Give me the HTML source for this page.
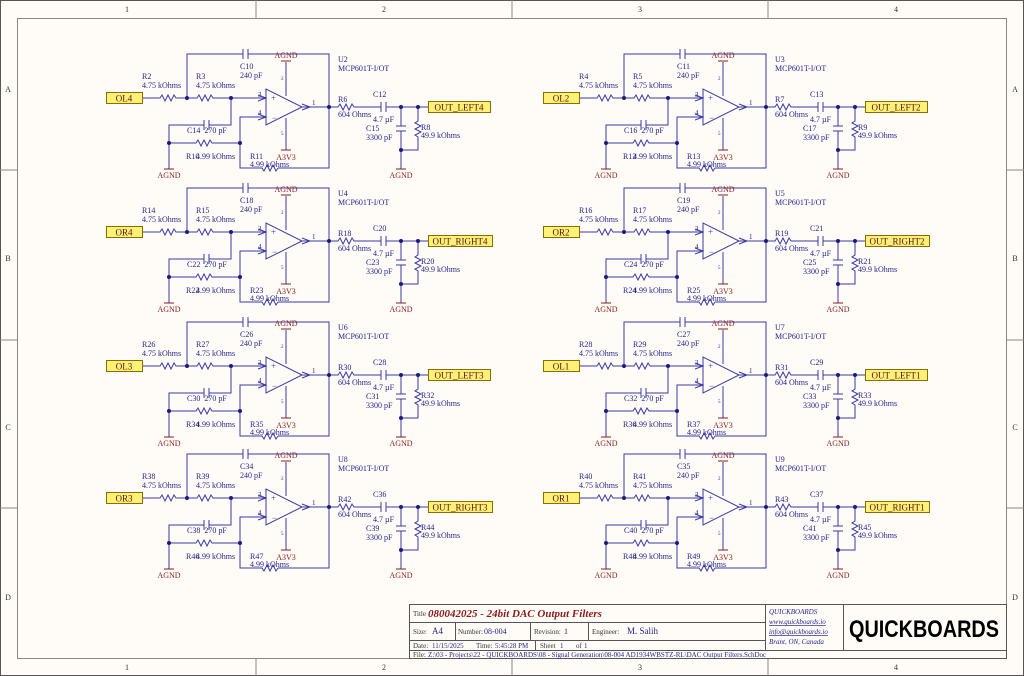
<!DOCTYPE html>
<html><head><meta charset="utf-8"><style>
html,body{margin:0;padding:0;background:#fffcf7;}
svg{display:block;font-family:"Liberation Serif",serif;}
.w{stroke:#3a3aa8;stroke-width:1;fill:none}
.t{fill:#25258f;font-size:8px}
.g{fill:#8b1a1a;font-size:8px}
.gl{stroke:#8b1a1a;stroke-width:1}
.n{fill:#1a1a80}
.f{stroke:#888;stroke-width:1;fill:none}
</style></head><body>
<svg width="1024" height="676" viewBox="0 0 1024 676" xmlns="http://www.w3.org/2000/svg">
<rect x="0.5" y="0.5" width="1023" height="675" fill="#fffcf7" stroke="#555"/>
<rect x="17.5" y="18.5" width="989" height="640" class="f"/>
<g class="f"><line x1="256" y1="0" x2="256" y2="18"/><line x1="512" y1="0" x2="512" y2="18"/><line x1="768" y1="0" x2="768" y2="18"/>
<line x1="256" y1="659" x2="256" y2="676"/><line x1="512" y1="659" x2="512" y2="676"/><line x1="768" y1="659" x2="768" y2="676"/>
<line x1="0" y1="170" x2="17" y2="170"/><line x1="0" y1="340" x2="17" y2="340"/><line x1="0" y1="508" x2="17" y2="508"/>
<line x1="1007" y1="170" x2="1024" y2="170"/><line x1="1007" y1="340" x2="1024" y2="340"/><line x1="1007" y1="508" x2="1024" y2="508"/></g>
<g fill="#333" font-size="8" text-anchor="middle">
<text x="127" y="12">1</text><text x="384" y="12">2</text><text x="640" y="12">3</text><text x="896" y="12">4</text>
<text x="127" y="670">1</text><text x="384" y="670">2</text><text x="640" y="670">3</text><text x="896" y="670">4</text>
<text x="8" y="92">A</text><text x="8" y="261">B</text><text x="8" y="430">C</text><text x="8" y="600">D</text>
<text x="1015" y="92">A</text><text x="1015" y="261">B</text><text x="1015" y="430">C</text><text x="1015" y="600">D</text></g>

<g id="b1">
<g class="w">
<polyline points="142,98 160,98 162,95 165,101 168,95 171,101 174,95 176,98 197,98 199,95 202,101 205,95 208,101 211,95 213,98 258,98"/>
<polyline points="187,98 187,54 243,54"/><polyline points="248,54 329,54 329,168 278,168"/>
<line x1="243" y1="49" x2="243" y2="59"/><line x1="248" y1="49" x2="248" y2="59"/>
<polyline points="278,168 276,171 273,165 270,171 267,165 264,171 262,168 240,168 240,117 258,117"/>
<polyline points="258,95 266,98 258,101"/><polyline points="258,114 266,117 258,120"/>
<line x1="266" y1="98" x2="258" y2="98"/><line x1="266" y1="117" x2="258" y2="117"/>
<polygon points="266,89 266,125 302,107"/>
<polyline points="302,104 310,107 302,110"/>
<polyline points="302,107 338,107 340,104 343,110 346,104 349,110 352,104 354,107 381,107"/><line x1="381" y1="102" x2="381" y2="112"/><line x1="386" y1="102" x2="386" y2="112"/>
<line x1="386" y1="107" x2="428" y2="107"/>
<line x1="286" y1="62" x2="286" y2="96"/><line x1="286" y1="118" x2="286" y2="150"/>
<polyline points="231,98 231,125 209,125"/><line x1="209" y1="120" x2="209" y2="130"/><line x1="204" y1="120" x2="204" y2="130"/>
<polyline points="204,125 169,125 169,169"/>
<polyline points="169,143 196,143 198,140 201,146 204,140 207,146 210,140 212,143 240,143"/>
<polyline points="401,107 401,126"/><line x1="396" y1="126" x2="406" y2="126"/><line x1="396" y1="131" x2="406" y2="131"/><polyline points="401,131 401,169"/>
<polyline points="418,107 418,121 415,123 421,126 415,129 421,132 415,135 418,137 418,150 401,150"/>
</g>
<g class="gl"><line x1="164" y1="169" x2="174" y2="169"/><line x1="396" y1="169" x2="406" y2="169"/><line x1="281" y1="61" x2="291" y2="61"/><line x1="281" y1="150" x2="291" y2="150"/></g>
<g class="n"><circle cx="187" cy="98" r="2"/><circle cx="231" cy="98" r="2"/><circle cx="169" cy="143" r="2"/><circle cx="240" cy="143" r="2"/><circle cx="329" cy="107" r="2"/><circle cx="401" cy="107" r="2"/><circle cx="418" cy="107" r="2"/><circle cx="401" cy="150" r="2"/></g>
<g class="t" style="fill:#3a3aa8;font-size:9px"><text x="271" y="101">+</text><text x="272" y="121">−</text></g>
<g class="t" style="font-size:5px"><text x="281" y="80">2</text><text x="281" y="135">5</text></g>
<g class="g"><text x="286" y="58" text-anchor="middle">AGND</text><text x="286" y="160" text-anchor="middle">A3V3</text><text x="169" y="178" text-anchor="middle">AGND</text><text x="401" y="178" text-anchor="middle">AGND</text></g>
</g>
<use href="#b1" x="0" y="134"/><use href="#b1" x="0" y="268"/><use href="#b1" x="0" y="400"/>
<use href="#b1" x="437" y="0"/><use href="#b1" x="437" y="134"/><use href="#b1" x="437" y="268"/><use href="#b1" x="437" y="400"/>

<g transform="translate(0,0)">
<rect x="106.5" y="92.5" width="36" height="11" fill="#fff176" stroke="#8a6d00"/><text x="124" y="101.5" font-size="9" text-anchor="middle" fill="#5a1010">OL4</text>
<rect x="428.5" y="101.5" width="62" height="11" fill="#fff176" stroke="#8a6d00"/><text x="459" y="110.5" font-size="9" text-anchor="middle" fill="#5a1010">OUT_LEFT4</text>
<g class="t"><text x="142" y="79">R2</text><text x="142" y="88">4.75 kOhms</text><text x="196" y="79">R3</text><text x="196" y="88">4.75 kOhms</text>
<text x="240" y="69">C10</text><text x="240" y="78">240 pF</text><text x="338" y="62">U2</text><text x="338" y="71">MCP601T-I/OT</text>
<text x="258" y="97" font-size="7">3</text><text x="258" y="115" font-size="7">4</text><text x="312" y="105" font-size="7">1</text>
<text x="187" y="133">C14&#160;&#160;270 pF</text><text x="186" y="159">R10</text><text x="196" y="159">4.99 kOhms</text>
<text x="250" y="159">R11</text><text x="250" y="167">4.99 kOhms</text>
<text x="338" y="102">R6</text><text x="338" y="117">604 Ohms</text><text x="373" y="97">C12</text><text x="373" y="122">4.7 µF</text>
<text x="366" y="131">C15</text><text x="366" y="140">3300 pF</text><text x="421" y="130">R8</text><text x="421" y="138">49.9 kOhms</text></g></g>

<g transform="translate(0,134)">
<rect x="106.5" y="92.5" width="36" height="11" fill="#fff176" stroke="#8a6d00"/><text x="124" y="101.5" font-size="9" text-anchor="middle" fill="#5a1010">OR4</text>
<rect x="428.5" y="101.5" width="64" height="11" fill="#fff176" stroke="#8a6d00"/><text x="460" y="110.5" font-size="9" text-anchor="middle" fill="#5a1010">OUT_RIGHT4</text>
<g class="t"><text x="142" y="79">R14</text><text x="142" y="88">4.75 kOhms</text><text x="196" y="79">R15</text><text x="196" y="88">4.75 kOhms</text>
<text x="240" y="69">C18</text><text x="240" y="78">240 pF</text><text x="338" y="62">U4</text><text x="338" y="71">MCP601T-I/OT</text>
<text x="258" y="97" font-size="7">3</text><text x="258" y="115" font-size="7">4</text><text x="312" y="105" font-size="7">1</text>
<text x="187" y="133">C22&#160;&#160;270 pF</text><text x="186" y="159">R22</text><text x="196" y="159">4.99 kOhms</text>
<text x="250" y="159">R23</text><text x="250" y="167">4.99 kOhms</text>
<text x="338" y="102">R18</text><text x="338" y="117">604 Ohms</text><text x="373" y="97">C20</text><text x="373" y="122">4.7 µF</text>
<text x="366" y="131">C23</text><text x="366" y="140">3300 pF</text><text x="421" y="130">R20</text><text x="421" y="138">49.9 kOhms</text></g></g>

<g transform="translate(0,268)">
<rect x="106.5" y="92.5" width="36" height="11" fill="#fff176" stroke="#8a6d00"/><text x="124" y="101.5" font-size="9" text-anchor="middle" fill="#5a1010">OL3</text>
<rect x="428.5" y="101.5" width="62" height="11" fill="#fff176" stroke="#8a6d00"/><text x="459" y="110.5" font-size="9" text-anchor="middle" fill="#5a1010">OUT_LEFT3</text>
<g class="t"><text x="142" y="79">R26</text><text x="142" y="88">4.75 kOhms</text><text x="196" y="79">R27</text><text x="196" y="88">4.75 kOhms</text>
<text x="240" y="69">C26</text><text x="240" y="78">240 pF</text><text x="338" y="62">U6</text><text x="338" y="71">MCP601T-I/OT</text>
<text x="258" y="97" font-size="7">3</text><text x="258" y="115" font-size="7">4</text><text x="312" y="105" font-size="7">1</text>
<text x="187" y="133">C30&#160;&#160;270 pF</text><text x="186" y="159">R34</text><text x="196" y="159">4.99 kOhms</text>
<text x="250" y="159">R35</text><text x="250" y="167">4.99 kOhms</text>
<text x="338" y="102">R30</text><text x="338" y="117">604 Ohms</text><text x="373" y="97">C28</text><text x="373" y="122">4.7 µF</text>
<text x="366" y="131">C31</text><text x="366" y="140">3300 pF</text><text x="421" y="130">R32</text><text x="421" y="138">49.9 kOhms</text></g></g>

<g transform="translate(0,400)">
<rect x="106.5" y="92.5" width="36" height="11" fill="#fff176" stroke="#8a6d00"/><text x="124" y="101.5" font-size="9" text-anchor="middle" fill="#5a1010">OR3</text>
<rect x="428.5" y="101.5" width="64" height="11" fill="#fff176" stroke="#8a6d00"/><text x="460" y="110.5" font-size="9" text-anchor="middle" fill="#5a1010">OUT_RIGHT3</text>
<g class="t"><text x="142" y="79">R38</text><text x="142" y="88">4.75 kOhms</text><text x="196" y="79">R39</text><text x="196" y="88">4.75 kOhms</text>
<text x="240" y="69">C34</text><text x="240" y="78">240 pF</text><text x="338" y="62">U8</text><text x="338" y="71">MCP601T-I/OT</text>
<text x="258" y="97" font-size="7">3</text><text x="258" y="115" font-size="7">4</text><text x="312" y="105" font-size="7">1</text>
<text x="187" y="133">C38&#160;&#160;270 pF</text><text x="186" y="159">R46</text><text x="196" y="159">4.99 kOhms</text>
<text x="250" y="159">R47</text><text x="250" y="167">4.99 kOhms</text>
<text x="338" y="102">R42</text><text x="338" y="117">604 Ohms</text><text x="373" y="97">C36</text><text x="373" y="122">4.7 µF</text>
<text x="366" y="131">C39</text><text x="366" y="140">3300 pF</text><text x="421" y="130">R44</text><text x="421" y="138">49.9 kOhms</text></g></g>

<g transform="translate(437,0)">
<rect x="106.5" y="92.5" width="36" height="11" fill="#fff176" stroke="#8a6d00"/><text x="124" y="101.5" font-size="9" text-anchor="middle" fill="#5a1010">OL2</text>
<rect x="428.5" y="101.5" width="62" height="11" fill="#fff176" stroke="#8a6d00"/><text x="459" y="110.5" font-size="9" text-anchor="middle" fill="#5a1010">OUT_LEFT2</text>
<g class="t"><text x="142" y="79">R4</text><text x="142" y="88">4.75 kOhms</text><text x="196" y="79">R5</text><text x="196" y="88">4.75 kOhms</text>
<text x="240" y="69">C11</text><text x="240" y="78">240 pF</text><text x="338" y="62">U3</text><text x="338" y="71">MCP601T-I/OT</text>
<text x="258" y="97" font-size="7">3</text><text x="258" y="115" font-size="7">4</text><text x="312" y="105" font-size="7">1</text>
<text x="187" y="133">C16&#160;&#160;270 pF</text><text x="186" y="159">R12</text><text x="196" y="159">4.99 kOhms</text>
<text x="250" y="159">R13</text><text x="250" y="167">4.99 kOhms</text>
<text x="338" y="102">R7</text><text x="338" y="117">604 Ohms</text><text x="373" y="97">C13</text><text x="373" y="122">4.7 µF</text>
<text x="366" y="131">C17</text><text x="366" y="140">3300 pF</text><text x="421" y="130">R9</text><text x="421" y="138">49.9 kOhms</text></g></g>

<g transform="translate(437,134)">
<rect x="106.5" y="92.5" width="36" height="11" fill="#fff176" stroke="#8a6d00"/><text x="124" y="101.5" font-size="9" text-anchor="middle" fill="#5a1010">OR2</text>
<rect x="428.5" y="101.5" width="64" height="11" fill="#fff176" stroke="#8a6d00"/><text x="460" y="110.5" font-size="9" text-anchor="middle" fill="#5a1010">OUT_RIGHT2</text>
<g class="t"><text x="142" y="79">R16</text><text x="142" y="88">4.75 kOhms</text><text x="196" y="79">R17</text><text x="196" y="88">4.75 kOhms</text>
<text x="240" y="69">C19</text><text x="240" y="78">240 pF</text><text x="338" y="62">U5</text><text x="338" y="71">MCP601T-I/OT</text>
<text x="258" y="97" font-size="7">3</text><text x="258" y="115" font-size="7">4</text><text x="312" y="105" font-size="7">1</text>
<text x="187" y="133">C24&#160;&#160;270 pF</text><text x="186" y="159">R24</text><text x="196" y="159">4.99 kOhms</text>
<text x="250" y="159">R25</text><text x="250" y="167">4.99 kOhms</text>
<text x="338" y="102">R19</text><text x="338" y="117">604 Ohms</text><text x="373" y="97">C21</text><text x="373" y="122">4.7 µF</text>
<text x="366" y="131">C25</text><text x="366" y="140">3300 pF</text><text x="421" y="130">R21</text><text x="421" y="138">49.9 kOhms</text></g></g>

<g transform="translate(437,268)">
<rect x="106.5" y="92.5" width="36" height="11" fill="#fff176" stroke="#8a6d00"/><text x="124" y="101.5" font-size="9" text-anchor="middle" fill="#5a1010">OL1</text>
<rect x="428.5" y="101.5" width="62" height="11" fill="#fff176" stroke="#8a6d00"/><text x="459" y="110.5" font-size="9" text-anchor="middle" fill="#5a1010">OUT_LEFT1</text>
<g class="t"><text x="142" y="79">R28</text><text x="142" y="88">4.75 kOhms</text><text x="196" y="79">R29</text><text x="196" y="88">4.75 kOhms</text>
<text x="240" y="69">C27</text><text x="240" y="78">240 pF</text><text x="338" y="62">U7</text><text x="338" y="71">MCP601T-I/OT</text>
<text x="258" y="97" font-size="7">3</text><text x="258" y="115" font-size="7">4</text><text x="312" y="105" font-size="7">1</text>
<text x="187" y="133">C32&#160;&#160;270 pF</text><text x="186" y="159">R36</text><text x="196" y="159">4.99 kOhms</text>
<text x="250" y="159">R37</text><text x="250" y="167">4.99 kOhms</text>
<text x="338" y="102">R31</text><text x="338" y="117">604 Ohms</text><text x="373" y="97">C29</text><text x="373" y="122">4.7 µF</text>
<text x="366" y="131">C33</text><text x="366" y="140">3300 pF</text><text x="421" y="130">R33</text><text x="421" y="138">49.9 kOhms</text></g></g>

<g transform="translate(437,400)">
<rect x="106.5" y="92.5" width="36" height="11" fill="#fff176" stroke="#8a6d00"/><text x="124" y="101.5" font-size="9" text-anchor="middle" fill="#5a1010">OR1</text>
<rect x="428.5" y="101.5" width="64" height="11" fill="#fff176" stroke="#8a6d00"/><text x="460" y="110.5" font-size="9" text-anchor="middle" fill="#5a1010">OUT_RIGHT1</text>
<g class="t"><text x="142" y="79">R40</text><text x="142" y="88">4.75 kOhms</text><text x="196" y="79">R41</text><text x="196" y="88">4.75 kOhms</text>
<text x="240" y="69">C35</text><text x="240" y="78">240 pF</text><text x="338" y="62">U9</text><text x="338" y="71">MCP601T-I/OT</text>
<text x="258" y="97" font-size="7">3</text><text x="258" y="115" font-size="7">4</text><text x="312" y="105" font-size="7">1</text>
<text x="187" y="133">C40&#160;&#160;270 pF</text><text x="186" y="159">R48</text><text x="196" y="159">4.99 kOhms</text>
<text x="250" y="159">R49</text><text x="250" y="167">4.99 kOhms</text>
<text x="338" y="102">R43</text><text x="338" y="117">604 Ohms</text><text x="373" y="97">C37</text><text x="373" y="122">4.7 µF</text>
<text x="366" y="131">C41</text><text x="366" y="140">3300 pF</text><text x="421" y="130">R45</text><text x="421" y="138">49.9 kOhms</text></g></g>

<g stroke="#555" fill="none">
<rect x="409.5" y="604.5" width="597" height="54"/>
<line x1="409" y1="622.5" x2="765" y2="622.5"/><line x1="409" y1="640.5" x2="765" y2="640.5"/><line x1="409" y1="650.5" x2="1007" y2="650.5"/>
<line x1="765.5" y1="604" x2="765.5" y2="650"/><line x1="843.5" y1="604" x2="843.5" y2="650"/>
<line x1="455.5" y1="622" x2="455.5" y2="640"/><line x1="530.5" y1="622" x2="530.5" y2="640"/><line x1="588.5" y1="622" x2="588.5" y2="640"/>
<line x1="535.5" y1="640" x2="535.5" y2="650"/>
</g>
<g font-size="7" fill="#333">
<text x="413" y="616">Title</text><text x="413" y="634">Size:</text><text x="458" y="634">Number:</text><text x="534" y="634">Revision:</text><text x="592" y="634">Engineer:</text>
<text x="413" y="648">Date:</text><text x="476" y="648">Time:</text><text x="540" y="648">Sheet</text><text x="576" y="648">of</text>
<text x="413" y="657">File:</text></g>
<text x="428" y="617" font-size="11" font-weight="bold" font-style="italic" fill="#8b1a1a">080042025 - 24bit DAC Output Filters</text>
<g font-size="8" fill="#25258f"><text x="432" y="634" font-size="9">A4</text><text x="484" y="634">08-004</text><text x="564" y="634">1</text><text x="627" y="634" font-size="9">M. Salih</text>
<text x="432" y="648" font-size="7">11/15/2025</text><text x="495" y="648" font-size="7">5:45:28 PM</text><text x="560" y="648" font-size="7">1</text><text x="584" y="648" font-size="7">1</text>
<text x="428" y="657" font-size="7">Z:\03 - Projects\22 - QUICKBOARDS\08 - Signal Generation\08-004 AD1934WBSTZ-RL\DAC Output Filters.SchDoc</text></g>
<g font-size="7" font-style="italic" fill="#25258f"><text x="769" y="614">QUICKBOARDS</text><text x="769" y="624" text-decoration="underline">www.quickboards.io</text><text x="769" y="634" text-decoration="underline">info@quickboards.io</text><text x="769" y="644">Brant, ON, Canada</text></g>
<text x="924" y="637" font-family="'Liberation Sans',sans-serif" font-weight="bold" font-size="24" text-anchor="middle" fill="#000" textLength="150" lengthAdjust="spacingAndGlyphs">QUICKBOARDS</text>
</svg>
</body></html>
